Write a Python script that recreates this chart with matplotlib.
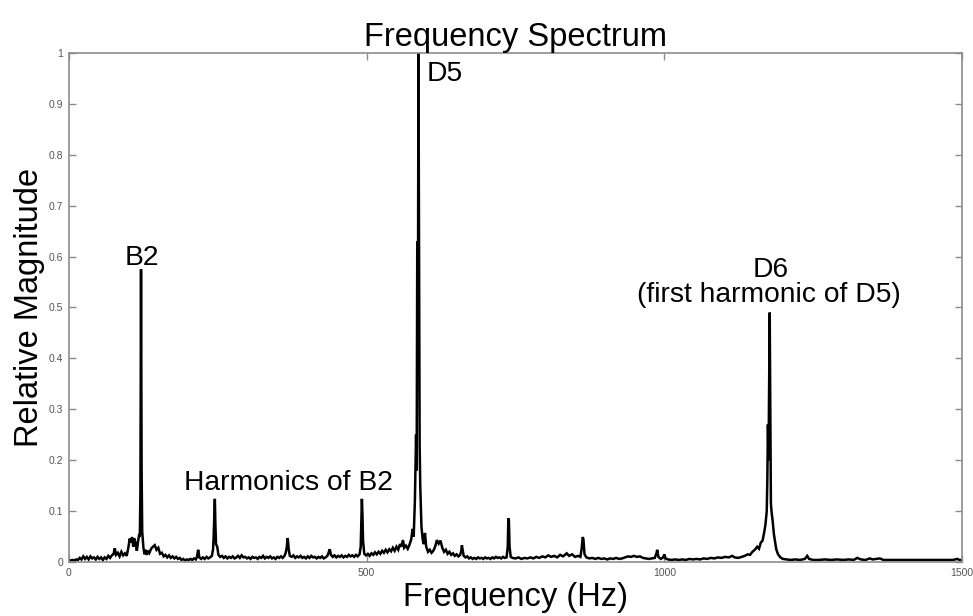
import matplotlib
matplotlib.use("Agg")
import matplotlib.pyplot as plt

plt.rcParams['font.family'] = ['Liberation Sans', 'DejaVu Sans']

# ---------------------------------------------------------------------------- #
# spectrum vertices (Hz, relative magnitude)
freq_a = [0, 3, 6, 9, 12, 15, 18, 21, 24, 27, 30, 33, 36, 39, 42, 45, 48, 51, 54, 57,
          60, 63, 66, 69, 72, 75, 77, 79, 82, 85, 88, 91, 94, 97, 100, 102, 104, 106, 108, 110,
          112, 114, 116, 118, 119, 120, 121, 122, 123, 125, 127, 129, 131, 133, 135, 138, 141, 144, 147, 150,
          153, 156, 159, 162, 165, 168, 171, 174, 177, 180, 183, 186, 189, 192, 195, 198, 201, 204, 207, 210,
          213, 215, 217, 219, 222, 225, 228, 231, 234, 237, 240, 242, 243, 244, 245, 246, 247, 249, 251]
mag_a = [.003, .003, .004, .003, .005, .004, .008, .005, .011, .006, .010, .005, .011, .007, .009, .005, .010, .006, .009, .004,
         .009, .006, .012, .008, .013, .016, .027, .014, .018, .011, .020, .013, .017, .012, .030, .046, .038, .049, .030, .046,
         .036, .022, .040, .055, .050, .140, .575, .180, .060, .028, .015, .024, .014, .022, .018, .026, .030, .033, .024, .028,
         .016, .018, .011, .014, .009, .013, .008, .011, .007, .010, .006, .008, .004, .006, .003, .005, .004, .006, .004, .007,
         .005, .010, .024, .009, .006, .009, .006, .010, .007, .009, .012, .025, .050, .090, .124, .070, .035, .030, .014]

freq_b = [254, 257, 260, 263, 266, 269, 272, 275, 278, 281, 284, 287, 290, 293, 296, 299, 302, 305, 308, 311,
          314, 317, 320, 323, 326, 329, 332, 335, 338, 341, 344, 347, 350, 353, 356, 359, 362, 364, 366, 367,
          368, 369, 371, 374, 377, 380, 383, 386, 389, 392, 395, 398, 401, 404, 407, 410, 413, 416, 419, 422,
          425, 428, 431, 434, 436, 438, 440, 443, 446, 449, 452, 455, 458, 461, 464, 467, 470, 473, 476, 479,
          482, 485, 488, 490, 491, 492, 493, 494, 496]
mag_b = [.010, .012, .008, .011, .007, .010, .008, .011, .007, .009, .012, .008, .013, .009, .010, .007, .009, .006, .010, .008,
         .009, .006, .010, .008, .012, .007, .010, .008, .011, .007, .009, .006, .010, .008, .011, .008, .012, .018, .030, .047,
         .040, .025, .012, .010, .013, .008, .011, .009, .012, .008, .010, .007, .011, .008, .012, .009, .010, .007, .010, .008,
         .011, .007, .009, .012, .018, .025, .014, .010, .013, .009, .012, .010, .013, .009, .012, .010, .014, .011, .013, .010,
         .014, .011, .015, .030, .080, .124, .090, .040, .016]

freq_c = [499, 502, 505, 508, 511, 514, 517, 520, 523, 526, 529, 532, 535, 538, 541, 544, 547, 550, 553, 556,
          558, 561, 563, 566, 569, 572, 575, 577, 579, 581, 583, 584, 585, 586, 587, 588, 589, 590, 592, 594,
          596, 598, 600, 603, 606, 609, 612, 615, 618, 621, 624, 627, 630, 633, 636, 639, 642, 645, 648, 651,
          654, 657, 659, 660, 661, 663, 666, 669, 672, 675, 678, 681, 684, 687, 690, 693, 696, 699, 702, 705,
          708, 711, 714, 717, 720, 723, 726, 729, 732, 735, 737, 738, 739, 740, 742]
mag_c = [.013, .016, .012, .017, .014, .019, .015, .020, .016, .022, .018, .024, .019, .025, .021, .028, .022, .030, .024, .035,
         .030, .043, .028, .032, .026, .034, .045, .065, .050, .120, .250, .180, .630, .400, 1.00, .600, .230, .150, .070, .045,
         .035, .057, .030, .020, .024, .018, .022, .030, .043, .036, .042, .028, .020, .024, .016, .020, .014, .017, .012, .015,
         .011, .014, .022, .033, .025, .012, .009, .011, .007, .009, .006, .008, .006, .009, .007, .008, .006, .009, .007, .008,
         .006, .009, .007, .010, .008, .009, .007, .010, .008, .009, .030, .086, .080, .030, .010]

freq_d = [745, 750, 755, 760, 765, 770, 775, 780, 785, 790, 795, 800, 805, 810, 815, 820, 825, 830, 836, 840,
          845, 850, 855, 859, 861, 863, 864, 866, 869, 874, 879, 884, 889, 894, 899, 904, 909, 914, 919, 924,
          929, 934, 939, 944, 949, 954, 959, 964, 969, 974, 979, 984, 987, 988, 990, 994, 998, 1000, 1002, 1006]
mag_d = [.008, .007, .009, .006, .008, .007, .009, .007, .010, .008, .011, .009, .013, .010, .012, .009, .014, .011, .017, .012,
         .015, .010, .012, .010, .025, .049, .045, .015, .009, .007, .008, .006, .008, .006, .007, .005, .007, .006, .008, .006,
         .007, .009, .011, .010, .012, .010, .011, .008, .007, .006, .007, .008, .018, .024, .010, .006, .009, .015, .007, .005]

freq_e = [1012, 1018, 1024, 1030, 1036, 1042, 1048, 1054, 1060, 1066, 1072, 1078, 1084, 1090, 1096, 1102, 1108, 1114, 1118, 1124,
          1130, 1135, 1140, 1144, 1148, 1152, 1156, 1159, 1162, 1165, 1168, 1170, 1172, 1173, 1174, 1175, 1176, 1177, 1178, 1179,
          1180, 1182, 1184, 1186, 1188, 1191, 1195, 1199, 1205, 1212, 1220, 1228, 1236, 1240, 1243, 1250, 1260, 1270, 1280, 1290,
          1300, 1310, 1318, 1324, 1330, 1338, 1345, 1350, 1356, 1362, 1368, 1380, 1395, 1410, 1425, 1440, 1455, 1470, 1485, 1492,
          1496, 1500]
mag_e = [.004, .005, .004, .005, .004, .006, .005, .006, .005, .007, .006, .008, .007, .009, .008, .010, .009, .012, .009, .008,
         .010, .012, .015, .014, .020, .024, .030, .026, .038, .042, .060, .075, .100, .160, .270, .200, .350, .490, .300, .115,
         .100, .080, .055, .040, .025, .015, .009, .006, .005, .004, .005, .004, .006, .012, .006, .004, .004, .005, .004, .005,
         .004, .005, .004, .008, .005, .004, .007, .005, .006, .007, .004, .004, .004, .004, .004, .004, .004, .004, .004, .006,
         .004, .004]

freq_hz = freq_a + freq_b + freq_c + freq_d + freq_e
magnitude = mag_a + mag_b + mag_c + mag_d + mag_e

x_ticks = [0, 500, 1000, 1500]
y_ticks = [0, 0.1, 0.2, 0.3, 0.4, 0.5, 0.6, 0.7, 0.8, 0.9, 1]
y_tick_labels = ["0", "0.1", "0.2", "0.3", "0.4", "0.5", "0.6", "0.7", "0.8", "0.9", "1"]

# ---------------------------------------------------------------------------- #
fig = plt.figure(figsize=(9.73, 6.16), dpi=100)
ax = fig.add_axes([0.0709, 0.0877, 0.9178, 0.8263])

ax.plot(freq_hz, magnitude, c='k', lw=1.8, solid_joinstyle='miter')

ax.set_xlim(0, 1500)
ax.set_ylim(0, 1)
ax.set_xticks(x_ticks)
ax.set_xticklabels([str(t) for t in x_ticks])
ax.set_yticks(y_ticks)
ax.set_yticklabels(y_tick_labels)

for s in ax.spines.values():
  s.set_color('#8c8c8c')
  s.set_linewidth(1.2)
ax.tick_params(direction='in', length=5, width=1, colors='#8c8c8c',
               labelcolor='#555555', labelsize=7.5, top=True, right=True, pad=4)

ax.set_title("Frequency Spectrum", fontsize=23.5, pad=5)
ax.set_xlabel("Frequency (Hz)", fontsize=23.5, labelpad=3)
ax.set_ylabel("Relative Magnitude", fontsize=23.5, labelpad=3)

ax.text(122, 0.584, "B2", fontsize=20.3, ha='center', va='baseline')
ax.text(368, 0.142, "Harmonics of B2", fontsize=20.3, ha='center', va='baseline')
ax.text(600, 0.944, "D5", fontsize=20.3, ha='left', va='baseline')
ax.text(1178, 0.559, "D6", fontsize=20.3, ha='center', va='baseline')
ax.text(1176, 0.511, "(first harmonic of D5)", fontsize=20.3, ha='center', va='baseline')

fig.savefig("out.png", dpi=100)
